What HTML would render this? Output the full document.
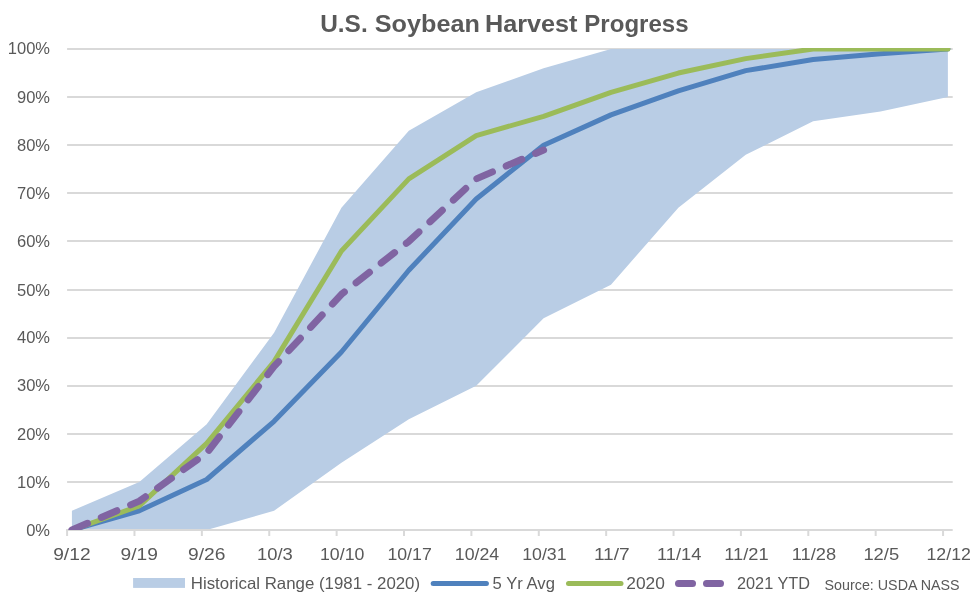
<!DOCTYPE html>
<html lang="en">
<head>
<meta charset="utf-8">
<title>U.S. Soybean Harvest Progress</title>
<style>
html,body{margin:0;padding:0;background:#fff;}
svg{display:block;}
text{font-family:'Liberation Sans', sans-serif;fill:#595959;}
.ax{font-size:16.5px;}
.lg{font-size:16.5px;}
.src{font-size:14.2px;}
.ttl{font-size:24px;font-weight:bold;}
</style>
</head>
<body>
<svg width="975" height="601" viewBox="0 0 975 601">
<rect x="0" y="0" width="975" height="601" fill="#ffffff"/>
<defs><clipPath id="plot"><rect x="67.1" y="48.0" width="885.6" height="482.0"/></clipPath></defs>

<g stroke="#D9D9D9" stroke-width="2" fill="none">
<line x1="67.1" y1="482" x2="952.7" y2="482"/>
<line x1="67.1" y1="434" x2="952.7" y2="434"/>
<line x1="67.1" y1="386" x2="952.7" y2="386"/>
<line x1="67.1" y1="338" x2="952.7" y2="338"/>
<line x1="67.1" y1="290" x2="952.7" y2="290"/>
<line x1="67.1" y1="241" x2="952.7" y2="241"/>
<line x1="67.1" y1="193" x2="952.7" y2="193"/>
<line x1="67.1" y1="145" x2="952.7" y2="145"/>
<line x1="67.1" y1="97" x2="952.7" y2="97"/>
<line x1="67.1" y1="49" x2="952.7" y2="49"/>
</g>
<polygon points="71.91,510.76 139.29,481.90 206.68,424.18 274.06,332.79 341.44,207.73 408.82,130.77 476.20,92.29 543.59,68.24 610.97,49.00 678.35,49.00 745.73,49.00 813.11,49.00 880.50,49.00 947.88,49.00 947.88,97.10 880.50,111.53 813.11,121.15 745.73,154.82 678.35,207.73 610.97,284.69 543.59,318.36 476.20,385.70 408.82,419.37 341.44,462.66 274.06,510.76 206.68,530.00 139.29,530.00 71.91,530.00" fill="#B9CDE5"/>
<g stroke="#D9D9D9" stroke-width="2" fill="none">
<line x1="66.1" y1="530" x2="952.7" y2="530"/>
<line x1="67.10" y1="530.00" x2="67.10" y2="536.00"/>
<line x1="134.48" y1="530.00" x2="134.48" y2="536.00"/>
<line x1="201.86" y1="530.00" x2="201.86" y2="536.00"/>
<line x1="269.25" y1="530.00" x2="269.25" y2="536.00"/>
<line x1="336.63" y1="530.00" x2="336.63" y2="536.00"/>
<line x1="404.01" y1="530.00" x2="404.01" y2="536.00"/>
<line x1="471.39" y1="530.00" x2="471.39" y2="536.00"/>
<line x1="538.77" y1="530.00" x2="538.77" y2="536.00"/>
<line x1="606.16" y1="530.00" x2="606.16" y2="536.00"/>
<line x1="673.54" y1="530.00" x2="673.54" y2="536.00"/>
<line x1="740.92" y1="530.00" x2="740.92" y2="536.00"/>
<line x1="808.30" y1="530.00" x2="808.30" y2="536.00"/>
<line x1="875.68" y1="530.00" x2="875.68" y2="536.00"/>
<line x1="943.07" y1="530.00" x2="943.07" y2="536.00"/>
</g>
<g clip-path="url(#plot)" fill="none" stroke-linejoin="round" stroke-linecap="round">
<polyline points="71.91,530.00 139.29,510.76 206.68,479.50 274.06,421.29 341.44,352.03 408.82,270.26 476.20,199.07 543.59,145.20 610.97,114.90 678.35,90.85 745.73,70.65 813.11,59.58 880.50,53.81 947.88,49.00" stroke="#4F81BD" stroke-width="5"/>
<polyline points="71.91,530.00 139.29,505.95 206.68,443.42 274.06,361.65 341.44,251.02 408.82,178.87 476.20,135.58 543.59,116.34 610.97,92.29 678.35,73.05 745.73,58.62 813.11,49.00 880.50,49.00 947.88,49.00" stroke="#9BBB59" stroke-width="5"/>
<polyline points="71.91,530.00 139.29,501.14 206.68,453.04 274.06,366.46 341.44,294.31 408.82,241.40 476.20,178.87 543.59,150.01" stroke="#8064A2" stroke-width="7" stroke-dasharray="17 14.93"/>
</g>
<rect x="133.1" y="578" width="51.9" height="9.9" fill="#B9CDE5"/>
<line x1="433.2" y1="583.5" x2="486.4" y2="583.5" stroke="#4F81BD" stroke-width="5" stroke-linecap="round"/>
<line x1="568.5" y1="583.5" x2="621" y2="583.5" stroke="#9BBB59" stroke-width="5" stroke-linecap="round"/>
<line x1="678.5" y1="583.5" x2="692.5" y2="583.5" stroke="#8064A2" stroke-width="7" stroke-linecap="round"/>
<line x1="706.5" y1="583.5" x2="720.5" y2="583.5" stroke="#8064A2" stroke-width="7" stroke-linecap="round"/>
<g id="labels" style="filter:grayscale(1)">
<text class="ttl" y="31.7"><tspan x="320.2" textLength="47.5" lengthAdjust="spacingAndGlyphs">U.S.</tspan> <tspan x="374.8" textLength="105.0" lengthAdjust="spacingAndGlyphs">Soybean</tspan> <tspan x="485.0" textLength="92.5" lengthAdjust="spacingAndGlyphs">Harvest</tspan> <tspan x="584.3" textLength="104.3" lengthAdjust="spacingAndGlyphs">Progress</tspan></text>
<text class="ax" x="50" y="536.4" text-anchor="end">0%</text>
<text class="ax" x="50" y="488.4" text-anchor="end">10%</text>
<text class="ax" x="50" y="439.5" text-anchor="end">20%</text>
<text class="ax" x="50" y="391.4" text-anchor="end">30%</text>
<text class="ax" x="50" y="343.4" text-anchor="end">40%</text>
<text class="ax" x="50" y="295.8" text-anchor="end">50%</text>
<text class="ax" x="50" y="247.4" text-anchor="end">60%</text>
<text class="ax" x="50" y="199.3" text-anchor="end">70%</text>
<text class="ax" x="50" y="151.4" text-anchor="end">80%</text>
<text class="ax" x="50" y="103.4" text-anchor="end">90%</text>
<text class="ax" x="50" y="54.4" text-anchor="end">100%</text>
<text class="ax" x="71.9" y="560" text-anchor="middle" textLength="37.4" lengthAdjust="spacingAndGlyphs">9/12</text>
<text class="ax" x="139.3" y="560" text-anchor="middle" textLength="37.4" lengthAdjust="spacingAndGlyphs">9/19</text>
<text class="ax" x="206.7" y="560" text-anchor="middle" textLength="37.4" lengthAdjust="spacingAndGlyphs">9/26</text>
<text class="ax" x="274.9" y="560" text-anchor="middle" textLength="35.8" lengthAdjust="spacingAndGlyphs">10/3</text>
<text class="ax" x="342.2" y="560" text-anchor="middle" textLength="44.4" lengthAdjust="spacingAndGlyphs">10/10</text>
<text class="ax" x="409.6" y="560" text-anchor="middle" textLength="44.4" lengthAdjust="spacingAndGlyphs">10/17</text>
<text class="ax" x="477.0" y="560" text-anchor="middle" textLength="44.4" lengthAdjust="spacingAndGlyphs">10/24</text>
<text class="ax" x="544.4" y="560" text-anchor="middle" textLength="44.4" lengthAdjust="spacingAndGlyphs">10/31</text>
<text class="ax" x="611.8" y="560" text-anchor="middle" textLength="35.8" lengthAdjust="spacingAndGlyphs">11/7</text>
<text class="ax" x="679.2" y="560" text-anchor="middle" textLength="44.4" lengthAdjust="spacingAndGlyphs">11/14</text>
<text class="ax" x="746.5" y="560" text-anchor="middle" textLength="44.4" lengthAdjust="spacingAndGlyphs">11/21</text>
<text class="ax" x="813.9" y="560" text-anchor="middle" textLength="44.4" lengthAdjust="spacingAndGlyphs">11/28</text>
<text class="ax" x="881.3" y="560" text-anchor="middle" textLength="35.8" lengthAdjust="spacingAndGlyphs">12/5</text>
<text class="ax" x="948.7" y="560" text-anchor="middle" textLength="44.4" lengthAdjust="spacingAndGlyphs">12/12</text>
<text class="lg" x="190.8" y="589" textLength="229.3" lengthAdjust="spacingAndGlyphs">Historical Range (1981 - 2020)</text>
<text class="lg" x="492.6" y="589" textLength="62.3" lengthAdjust="spacingAndGlyphs">5 Yr Avg</text>
<text class="lg" x="626.3" y="589" textLength="38.6" lengthAdjust="spacingAndGlyphs">2020</text>
<text class="lg" x="737" y="589" textLength="73" lengthAdjust="spacingAndGlyphs">2021 YTD</text>
<text class="src" x="824.6" y="590.4" textLength="135" lengthAdjust="spacingAndGlyphs">Source: USDA NASS</text>
</g>
</svg>
</body>
</html>
